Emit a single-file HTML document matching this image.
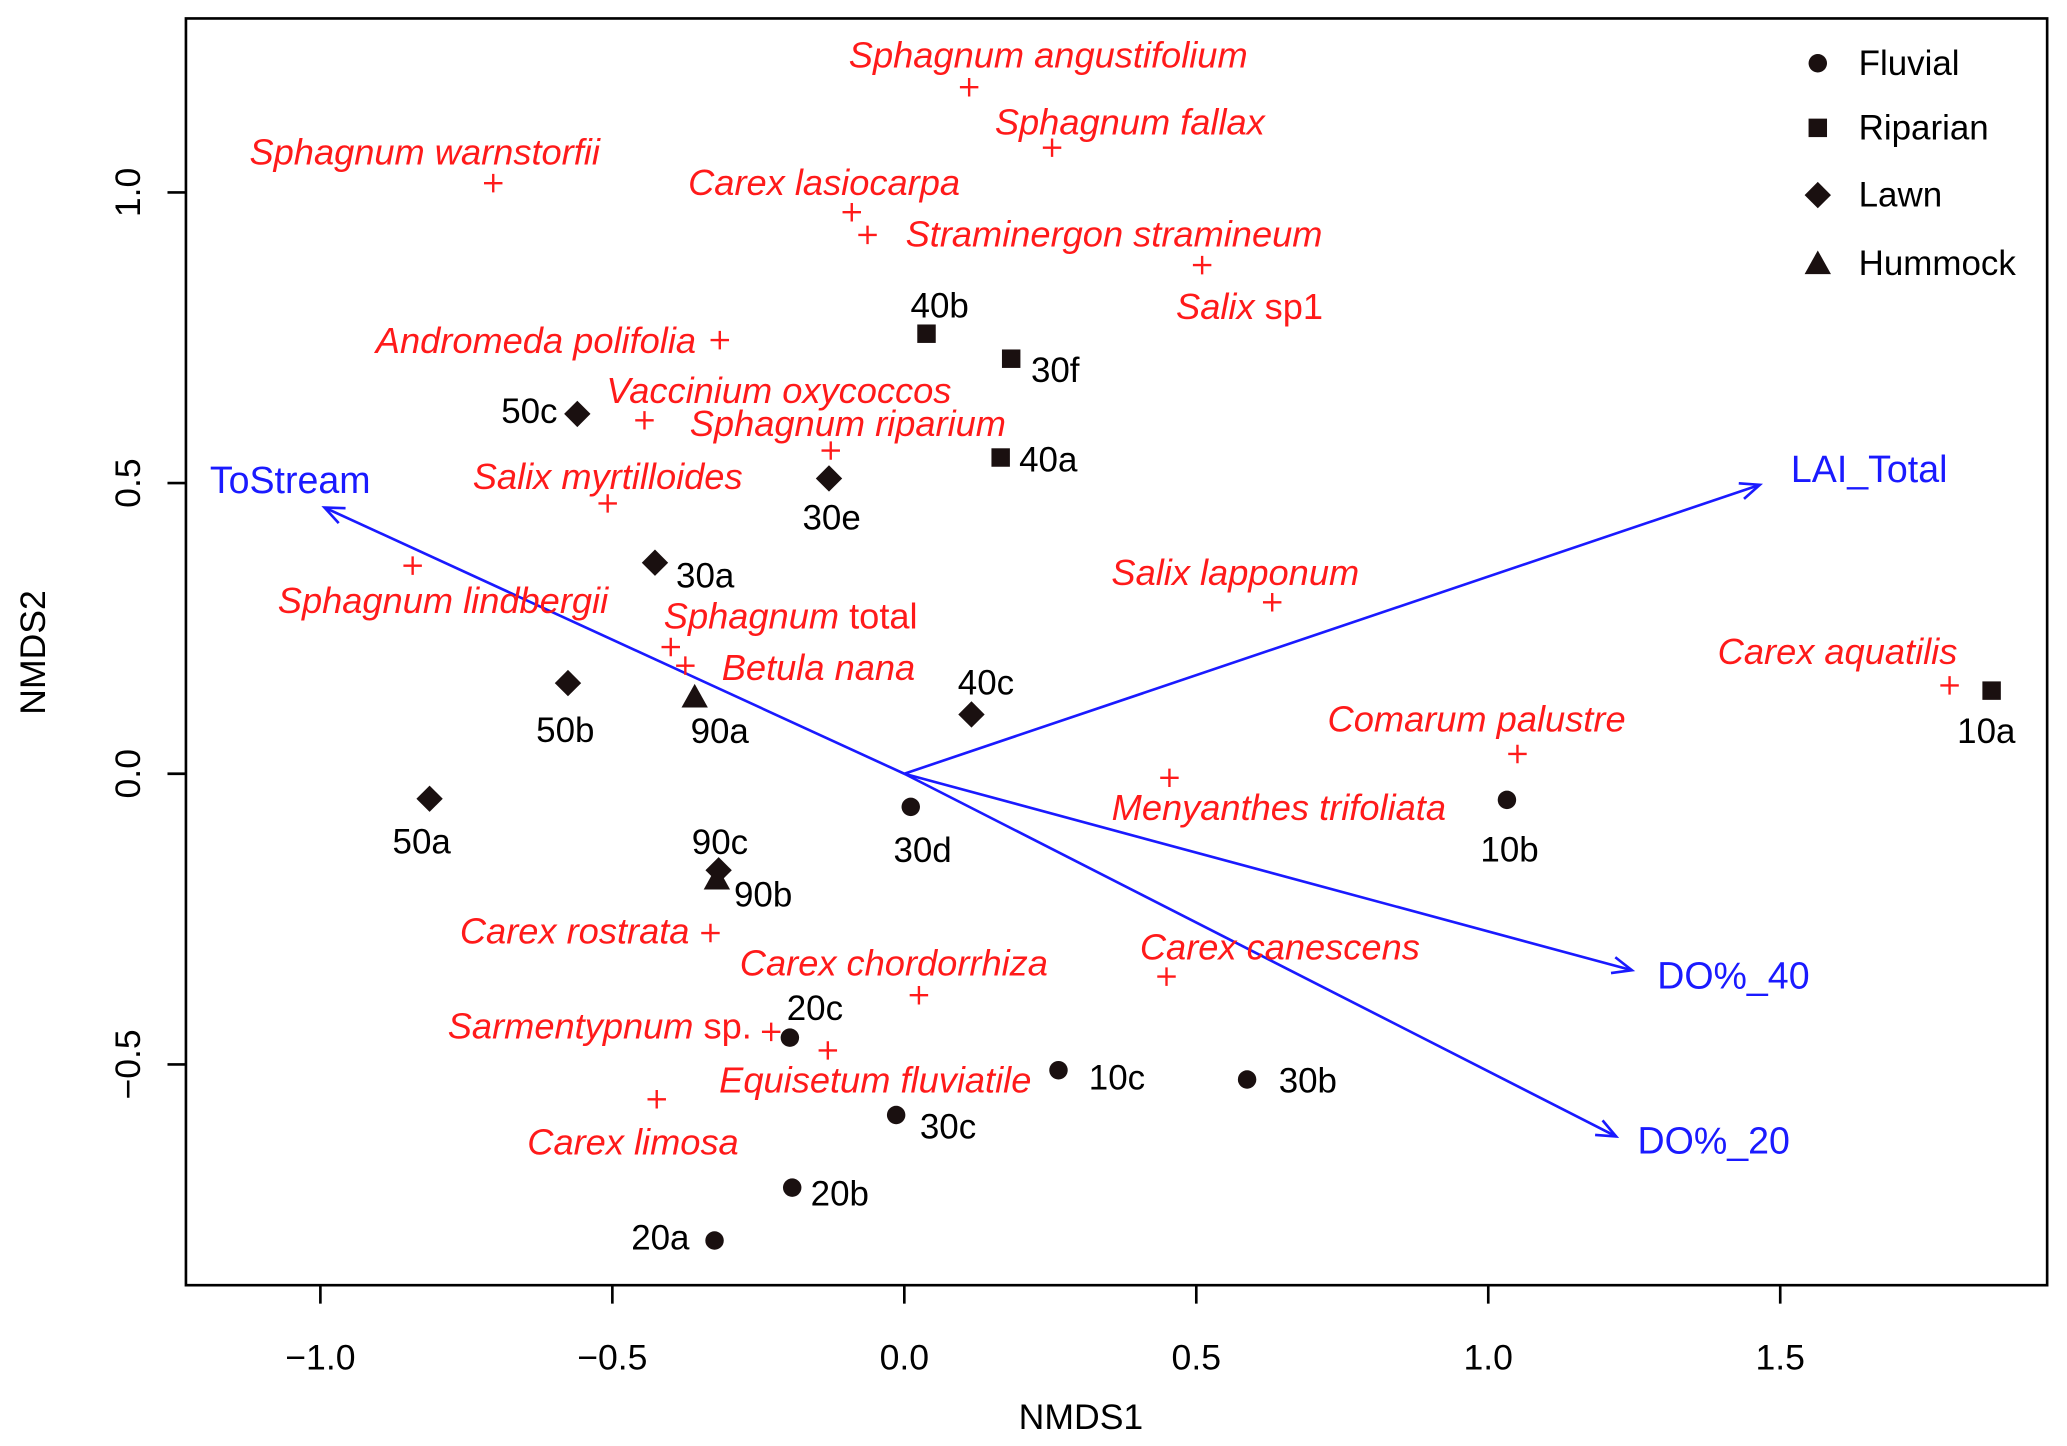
<!DOCTYPE html>
<html><head><meta charset="utf-8"><style>
html,body{margin:0;padding:0;background:#fff}
svg{display:block;font-family:"Liberation Sans",Arial,sans-serif}
</style></head><body>
<svg id="chart" width="2067" height="1446" viewBox="0 0 1568 1097" xmlns="http://www.w3.org/2000/svg">
<rect x="141" y="14" width="1412" height="961" fill="none" stroke="#000" stroke-width="2"/>
<g id="axes"></g>
<g id="arrows"></g>
<g id="species"></g>
<g id="sites"></g>
<g id="legend"></g>
<text x="820" y="1084" font-size="27" text-anchor="middle">NMDS1</text>
<text transform="translate(34,495) rotate(-90)" font-size="27" text-anchor="middle">NMDS2</text>
</svg>
<script>
const xTicks=[-1.0,-0.5,0.0,0.5,1.0,1.5];
const xTickLabels=["\u22121.0","\u22120.5","0.0","0.5","1.0","1.5"];
const yTicks=[-0.5,0.0,0.5,1.0];
const yTickLabels=["\u22120.5","0.0","0.5","1.0"];

const siteNames=["40b","30f","40a","10a","50c","30e","30a","50b","40c","50a","90c","90a","90b","30d","10b","20c","10c","30b","30c","20b","20a"];
const siteX=[0.038,0.183,0.165,1.862,-0.560,-0.129,-0.427,-0.576,0.115,-0.813,-0.318,-0.359,-0.321,0.011,1.032,-0.196,0.264,0.587,-0.014,-0.192,-0.325];
const siteY=[0.757,0.714,0.544,0.143,0.619,0.508,0.363,0.156,0.102,-0.043,-0.166,0.132,-0.181,-0.057,-0.045,-0.454,-0.510,-0.526,-0.587,-0.712,-0.803];
const siteType=["Riparian","Riparian","Riparian","Riparian","Lawn","Lawn","Lawn","Lawn","Lawn","Lawn","Lawn","Hummock","Hummock","Fluvial","Fluvial","Fluvial","Fluvial","Fluvial","Fluvial","Fluvial","Fluvial"];
const siteLab=[[10,-21,"middle"],[15,9,"start"],[14,2,"start"],[-4,31,"middle"],[-15,-2,"end"],[2,30,"middle"],[16,10,"start"],[-2,36,"middle"],[11,-24,"middle"],[-6,33,"middle"],[1,-21,"middle"],[19,26,"middle"],[13,12,"start"],[9,33,"middle"],[2,38,"middle"],[19,-22,"middle"],[23,6,"start"],[24,1,"start"],[18,9,"start"],[14,5,"start"],[-19,-2,"end"]];

const spNames=["Sphagnum angustifolium","Sphagnum fallax","Sphagnum warnstorfii","Carex lasiocarpa","Straminergon stramineum","Salix","Andromeda polifolia","Vaccinium oxycoccos","Sphagnum riparium","Salix myrtilloides","Sphagnum lindbergii","Salix lapponum","Sphagnum","Betula nana","Carex aquatilis","Comarum palustre","Menyanthes trifoliata","Carex rostrata","Carex canescens","Carex chordorrhiza","Sarmentypnum","Equisetum fluviatile","Carex limosa"];
const spSuffix=["","","","","",
" sp1","","","","",
"",""," total","","",
"","","","","",
" sp.","",""];
const spX=[0.111,0.253,-0.704,-0.090,-0.063,0.510,-0.316,-0.445,-0.126,-0.508,-0.842,0.630,-0.400,-0.375,1.790,1.050,0.454,-0.332,0.449,0.025,-0.228,-0.131,-0.424];
const spY=[1.181,1.077,1.016,0.966,0.927,0.875,0.746,0.608,0.556,0.465,0.358,0.295,0.218,0.186,0.152,0.034,-0.007,-0.274,-0.349,-0.381,-0.444,-0.476,-0.560];
const spLab=[[60,-25,"middle"],[59,-20,"middle"],[-52,-24,"middle"],[-21,-23,"middle"],[187,-1,"middle"],[36,31,"middle"],[-18,0,"end"],[102,-23,"middle"],[13,-21,"middle"],[0,-21,"middle"],[23,26,"middle"],[-28,-23,"middle"],[91,-24,"middle"],[101,1,"middle"],[-85,-26,"middle"],[-31,-27,"middle"],[83,22,"middle"],[-103,-2,"middle"],[86,-23,"middle"],[-19,-25,"middle"],[-130,-5,"middle"],[36,22,"middle"],[-18,32,"middle"]];

const vecNames=["ToStream","LAI_Total","DO%_40","DO%_20"];
const vecX=[-0.993,1.465,1.246,1.219];
const vecY=[0.458,0.497,-0.338,-0.624];
const vecLab=[[-26,-21,"middle"],[83,-12,"middle"],[77,4,"middle"],[74,3,"middle"]];

const legendTypes=["Fluvial","Riparian","Lawn","Hummock"];

const NS="http://www.w3.org/2000/svg";
const X=v=>686+v*443, Y=v=>587-v*441;
function mk(tag,attrs,parent){const e=document.createElementNS(NS,tag);for(const k in attrs)e.setAttribute(k,attrs[k]);parent.appendChild(e);return e;}
function sym(type,cx,cy,g){
  if(type==="Fluvial")return mk("circle",{cx:cx,cy:cy,r:7,fill:"#1a1010"},g);
  if(type==="Riparian")return mk("rect",{x:cx-7,y:cy-7,width:14,height:14,fill:"#1a1010"},g);
  if(type==="Lawn")return mk("polygon",{points:`${cx},${cy-10} ${cx+10},${cy} ${cx},${cy+10} ${cx-10},${cy}`,fill:"#1a1010"},g);
  return mk("polygon",{points:`${cx},${cy-10} ${cx+10},${cy+8} ${cx-10},${cy+8}`,fill:"#1a1010"},g);
}
const axes=document.getElementById("axes");
xTicks.forEach((t,i)=>{
  const l=mk("line",{x1:X(t),x2:X(t),y1:975,y2:989,stroke:"#000","stroke-width":2},axes);
  
  
  const tx=mk("text",{x:X(t),y:1039,"font-size":27,"text-anchor":"middle"},axes);tx.textContent=xTickLabels[i];
  
  
});
yTicks.forEach((t,i)=>{
  const l=mk("line",{x1:127,x2:141,y1:Y(t),y2:Y(t),stroke:"#000","stroke-width":2},axes);
  
  
  const tx=mk("text",{transform:`translate(106,${Y(t)}) rotate(-90)`,"font-size":27,"text-anchor":"middle"},axes);tx.textContent=yTickLabels[i];
  
  
});
const ag=document.getElementById("arrows");
vecNames.forEach((n,i)=>{
  const x1=X(0),y1=Y(0),x2=X(vecX[i]),y2=Y(vecY[i]);
  const a=Math.atan2(y2-y1,x2-x1),h=16,w=0.4;
  const g=mk("g",{},ag);
  
  
  mk("line",{x1:x1,y1:y1,x2:x2,y2:y2,stroke:"#1a1aff","stroke-width":2},g);
  mk("polyline",{points:`${x2-h*Math.cos(a-w)},${y2-h*Math.sin(a-w)} ${x2},${y2} ${x2-h*Math.cos(a+w)},${y2-h*Math.sin(a+w)}`,fill:"none",stroke:"#1a1aff","stroke-width":2},g);
  const t=mk("text",{x:x2+vecLab[i][0],y:y2+vecLab[i][1],"font-size":28.5,fill:"#1a1aff","text-anchor":vecLab[i][2],"dominant-baseline":"central"},g);t.textContent=n;
});
const spg=document.getElementById("species");
spNames.forEach((n,i)=>{
  const cx=X(spX[i]),cy=Y(spY[i]);
  const g=mk("g",{},spg);
  
  
  mk("path",{d:`M${cx-7},${cy}H${cx+7}M${cx},${cy-7}V${cy+7}`,stroke:"#ff1a1a","stroke-width":1.8},g);
  const t=mk("text",{x:cx+spLab[i][0],y:cy+spLab[i][1],"font-size":27.5,fill:"#ff1a1a","text-anchor":spLab[i][2],"dominant-baseline":"central"},g);
  const a=mk("tspan",{"font-style":"italic"},t);a.textContent=n;
  if(spSuffix[i]){const b=mk("tspan",{},t);b.textContent=spSuffix[i];}
});
const sg=document.getElementById("sites");
siteNames.forEach((n,i)=>{
  const cx=X(siteX[i]),cy=Y(siteY[i]);
  const g=mk("g",{},sg);
  
  
  sym(siteType[i],cx,cy,g);
  const t=mk("text",{x:cx+siteLab[i][0],y:cy+siteLab[i][1],"font-size":26.5,fill:"#000","text-anchor":siteLab[i][2],"dominant-baseline":"central"},g);t.textContent=n;
});
const lg=document.getElementById("legend");
legendTypes.forEach((n,i)=>{
  const cy=[48,97,148,200][i];
  const g=mk("g",{},lg);
  
  
  sym(n,1379,cy,g);
  const t=mk("text",{x:1410,y:cy,"font-size":26.5,"dominant-baseline":"central"},g);t.textContent=n;
});
</script>
</body></html>
